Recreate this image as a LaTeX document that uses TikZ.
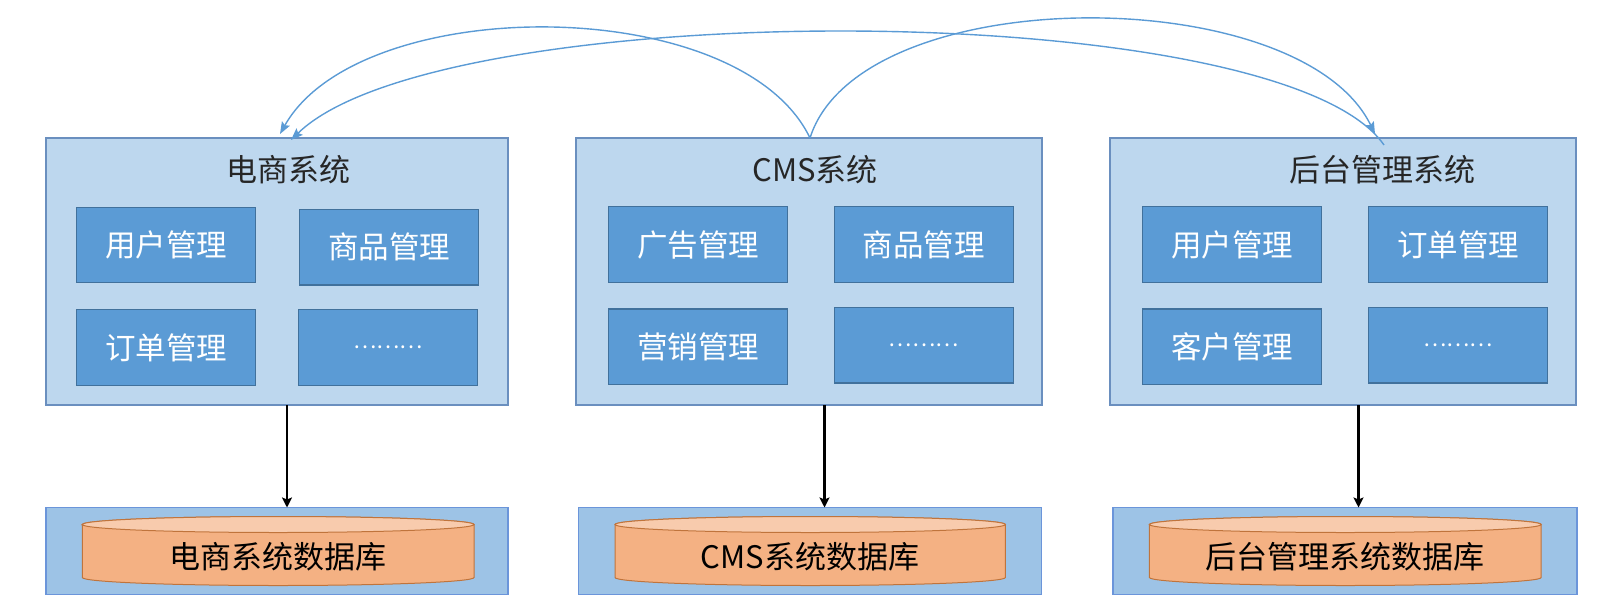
\documentclass[tikz,border=0pt]{standalone}
\usepackage{fontspec}
\setmainfont{Noto Sans CJK SC}
\usetikzlibrary{arrows.meta}
\definecolor{sysfill}{HTML}{BDD7EE}
\definecolor{sysdraw}{HTML}{6A8FBF}
\definecolor{modfill}{HTML}{5B9BD5}
\definecolor{moddraw}{HTML}{41719C}
\definecolor{dbfill}{HTML}{9DC3E6}
\definecolor{dbdraw}{HTML}{6B95DA}
\definecolor{cylbody}{HTML}{F4B183}
\definecolor{cyltop}{HTML}{F8CBAD}
\definecolor{cyldraw}{HTML}{C0743C}
\definecolor{arcblue}{HTML}{5B9BD5}
\tikzset{
  sysbox/.style={draw=sysdraw, fill=sysfill, line width=1.2pt, inner sep=0pt, outer sep=0pt, minimum height=267pt},
  modbox/.style={draw=moddraw, fill=modfill, line width=1.2pt, inner sep=0pt, outer sep=0pt,
    minimum width=179pt, minimum height=75.5pt, text=white, font=\fontsize{30.5}{36}\selectfont},
  dotsbox/.style={modbox, font=\fontsize{22}{26}\selectfont},
  systitle/.style={inner sep=0pt, text=black!85, font=\fontsize{31}{36}\selectfont},
  dbbox/.style={draw=dbdraw, fill=dbfill, line width=1.2pt, inner sep=0pt, outer sep=0pt, minimum height=87pt},
  cylst/.style={draw=cyldraw, fill=cylbody, line width=1pt},
  cyltopst/.style={draw=cyldraw, fill=cyltop, line width=1pt},
  dbtext/.style={inner sep=0pt, text=black, font=\fontsize{31}{36}\selectfont},
  blkarrow/.style={line width=2.6pt, black, -{Stealth[length=10pt,width=10pt,inset=2pt]}},
  arcarrow/.style={line width=1.4pt, arcblue, -{Stealth[length=12pt,width=9pt,inset=2pt]}},
}
\begin{document}
\begin{tikzpicture}[x=1pt,y=-1pt]
\useasboundingbox (0,0) rectangle (1610,614);

% system boxes
\node[sysbox, minimum width=462pt] (sys1) at (277,271.5) {};
\node[sysbox, minimum width=466pt] (sys2) at (809,271.5) {};
\node[sysbox, minimum width=466pt] (sys3) at (1343,271.5) {};

\node[systitle] (t1) at (288,170) {电商系统};
\node[systitle] (t2) at (815,170) {CMS系统};
\node[systitle] (t3) at (1382,170) {后台管理系统};

% modules
\node[modbox] (m11) at (166,245) {用户管理};
\node[modbox] (m12) at (389,247.3) {商品管理};
\node[modbox] (m13) at (166,347.5) {订单管理};
\node[dotsbox] (m14) at (388.3,347.5) {………};

\node[modbox] (m21) at (698,244.5) {广告管理};
\node[modbox] (m22) at (923.7,244.5) {商品管理};
\node[modbox] (m23) at (698,346.8) {营销管理};
\node[dotsbox] (m24) at (923.7,345.2) {………};

\node[modbox] (m31) at (1232.2,244.5) {用户管理};
\node[modbox] (m32) at (1458,244.5) {订单管理};
\node[modbox] (m33) at (1232.2,346.8) {客户管理};
\node[dotsbox] (m34) at (1458,345.2) {………};

% database boxes
\node[dbbox, minimum width=462pt] (db1) at (277,551) {};
\node[dbbox, minimum width=463pt] (db2) at (810.3,551) {};
\node[dbbox, minimum width=464pt] (db3) at (1345,551) {};

% cylinders
\draw[cylst] (82.3,524.5) -- (82.3,577.5) arc[start angle=180,end angle=360,x radius=195.85pt,y radius=8pt] -- (474,524.5) arc[start angle=0,end angle=180,x radius=195.85pt,y radius=8pt] -- cycle;
\draw[cyltopst] (278.15,524.5) ellipse [x radius=195.85pt, y radius=8pt];
\draw[cylst] (615,524.5) -- (615,577.5) arc[start angle=180,end angle=360,x radius=195.2pt,y radius=8pt] -- (1005.4,524.5) arc[start angle=0,end angle=180,x radius=195.2pt,y radius=8pt] -- cycle;
\draw[cyltopst] (810.2,524.5) ellipse [x radius=195.2pt, y radius=8pt];
\draw[cylst] (1149.4,524.5) -- (1149.4,577.5) arc[start angle=180,end angle=360,x radius=195.9pt,y radius=8pt] -- (1541.2,524.5) arc[start angle=0,end angle=180,x radius=195.9pt,y radius=8pt] -- cycle;
\draw[cyltopst] (1345.3,524.5) ellipse [x radius=195.9pt, y radius=8pt];

\node[dbtext] (dt1) at (278.15,557) {电商系统数据库};
\node[dbtext] (dt2) at (810.2,557) {CMS系统数据库};
\node[dbtext] (dt3) at (1345.3,557) {后台管理系统数据库};

% vertical arrows
\draw[blkarrow] (sys1.south -| 287,0) -- (db1.north -| 287,0);
\draw[blkarrow] (sys2.south -| 824.5,0) -- (db2.north -| 824.5,0);
\draw[blkarrow] (sys3.south -| 1358.5,0) -- (db3.north -| 1358.5,0);

% arcs
\coordinate (cmsTop) at (810,138);
\coordinate (eA) at (280,134);
\coordinate (eB) at (291,140);
\coordinate (bA) at (1375,134);
\coordinate (bB) at (1384,145);
\draw[arcarrow] (cmsTop) .. controls (740,-8) and (360,-8) .. (eA);
\draw[arcarrow] (cmsTop) .. controls (860,-20) and (1300,-20) .. (bA);
\draw[arcarrow] (bB) .. controls (1280,-5) and (440,-5) .. (eB);
\end{tikzpicture}
\end{document}
